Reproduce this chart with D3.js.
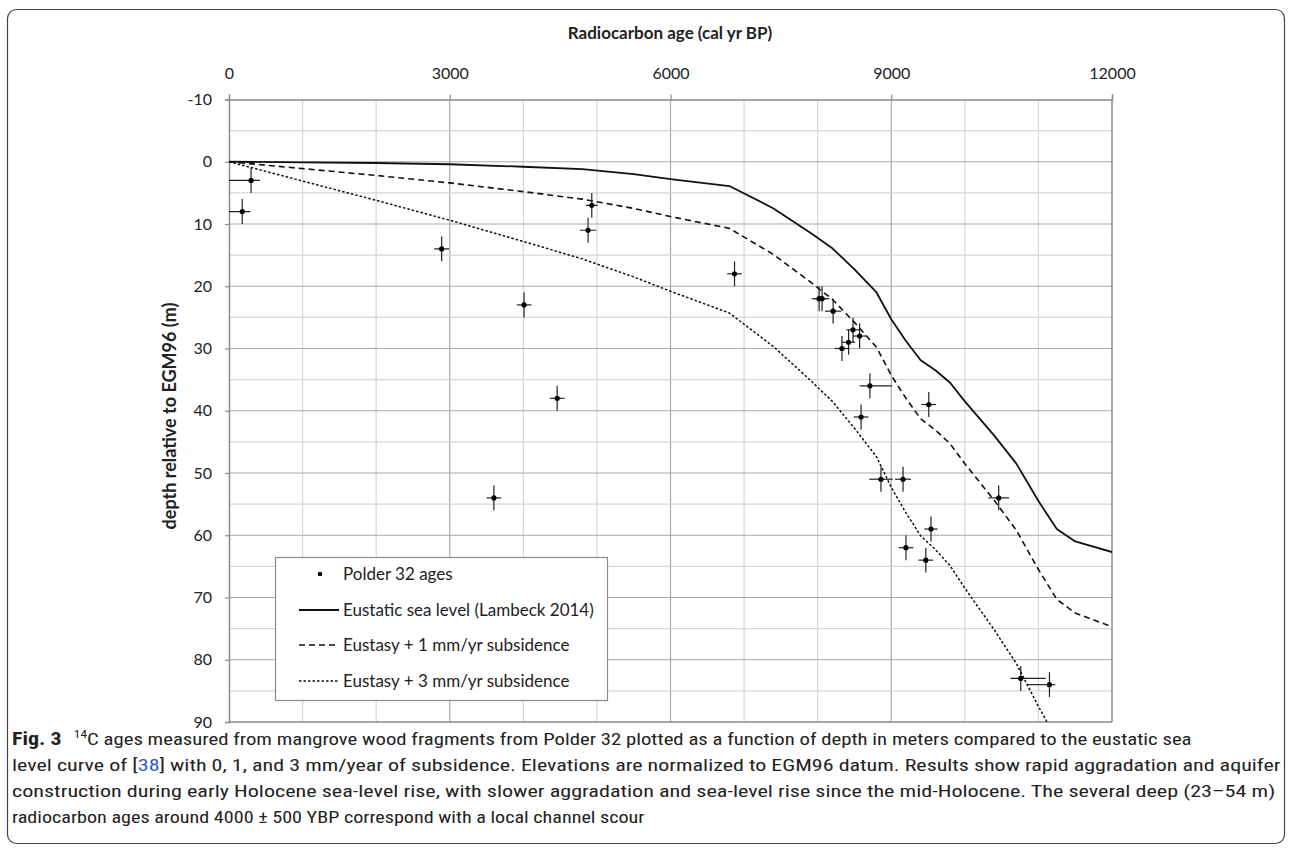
<!DOCTYPE html>
<html>
<head>
<meta charset="utf-8">
<script src="https://cdn.jsdelivr.net/npm/d3@7"></script>
<style>
  body { margin: 0; background: #fff; }
  svg { display: block; }
</style>
</head>
<body>
<div id="chart"></div>
<script>
// Polder 32 radiocarbon ages (cal yr BP) and depth (m)
const ages       = [180, 300, 2890, 4880, 4930, 4010, 4460, 3600, 6870, 8020, 8060, 8210, 8480, 8570, 8420, 8330, 8710, 8590, 9510, 8860, 9160, 10460, 9540, 9200, 9470, 10760, 11150];
const depths     = [8, 3, 14, 11, 7, 23, 38, 54, 18, 22, 22, 24, 27, 28, 29, 30, 36, 41, 39, 51, 51, 54, 59, 62, 64, 83, 84];
const ageErrLo   = [180, 300, 100, 110, 80, 100, 100, 100, 100, 100, 100, 110, 90, 90, 90, 100, 140, 100, 100, 160, 110, 140, 90, 100, 100, 140, 310];
const ageErrHi   = [110, 120, 100, 110, 80, 100, 100, 100, 100, 100, 100, 110, 90, 90, 90, 100, 300, 100, 100, 160, 110, 140, 90, 100, 100, 340, 80];
const depthErr   = [2, 2, 2, 2, 2, 2, 2, 2, 2, 2, 2, 2, 2, 2, 2, 2, 2, 2, 2, 2, 2, 2, 2, 2, 2, 2, 2];

// curve nodes (cal yr BP)
const curveAges  = [0, 1000, 2000, 3000, 4000, 4800, 5500, 6000, 6800, 7400, 7900, 8200, 8500, 8800, 9000, 9200, 9400, 9600, 9800, 10000, 10400, 10700, 11000, 11250, 11500, 12000];
const eustatic   = [0, 0.1, 0.2, 0.4, 0.8, 1.2, 2.0, 2.8, 3.9, 7.5, 11.4, 13.9, 17.3, 21.0, 25.3, 28.8, 31.9, 33.5, 35.5, 38.5, 44.0, 48.5, 54.5, 59.0, 61.0, 62.7];
const sub1mm     = [0, 1.1, 2.2, 3.4, 4.8, 6.0, 7.5, 8.8, 10.7, 14.9, 19.3, 22.1, 25.8, 29.8, 34.3, 38.0, 41.3, 43.1, 45.3, 48.5, 54.4, 59.2, 65.5, 70.3, 72.5, 74.7];
const sub3mm     = [0, 3.1, 6.2, 9.4, 12.8, 15.6, 18.5, 20.8, 24.3, 29.7, 35.1, 38.5, 42.8, 47.4, 52.3, 56.4, 60.1, 62.3, 64.9, 68.5, 75.2, 80.6, 87.5, 92.8, 96, 102];

const xTicks = [0, 3000, 6000, 9000, 12000];
const yTicks = [-10, 0, 10, 20, 30, 40, 50, 60, 70, 80, 90];

const legendLabels = ["Polder 32 ages", "Eustatic sea level (Lambeck 2014)", "Eustasy + 1 mm/yr subsidence", "Eustasy + 3 mm/yr subsidence"];

const captionLines = [
  "C ages measured from mangrove wood fragments from Polder 32 plotted as a function of depth in meters compared to the eustatic sea",
  " with 0, 1, and 3 mm/year of subsidence. Elevations are normalized to EGM96 datum. Results show rapid aggradation and aquifer",
  "construction during early Holocene sea-level rise, with slower aggradation and sea-level rise since the mid-Holocene. The several deep (23\u201354 m)",
  "radiocarbon ages around 4000 \u00b1 500 YBP correspond with a local channel scour"
];

var W = 1290, H = 850;
var font = "Lato, 'Open Sans', sans-serif";
var capFont = "'Liberation Sans Narrow', 'Roboto Condensed', Roboto, 'Noto Sans', sans-serif";

var svg = d3.select("#chart").append("svg")
  .attr("width", W)
  .attr("height", H);

// outer frame
svg.append("rect")
  .attr("x", 7.5).attr("y", 9.5)
  .attr("width", 1277).attr("height", 834)
  .attr("rx", 9)
  .attr("fill", "none")
  .attr("stroke", "#444")
  .attr("stroke-width", 1.2);

var x = d3.scaleLinear().domain([0, 12000]).range([229, 1112]);
var y = d3.scaleLinear().domain([-10, 90]).range([99.5, 722]);

// grid
var grid = svg.append("g");
grid.selectAll("line.v")
  .data(d3.range(1000, 12000, 1000))
  .join("line")
  .attr("x1", d => x(d)).attr("x2", d => x(d))
  .attr("y1", y(-10)).attr("y2", y(90))
  .attr("stroke", d => d % 3000 === 0 ? "#a8a8a8" : "#d6d6d6")
  .attr("stroke-width", 1.2);
grid.selectAll("line.h")
  .data(d3.range(-5, 90, 5))
  .join("line")
  .attr("x1", x(0)).attr("x2", x(12000))
  .attr("y1", d => y(d)).attr("y2", d => y(d))
  .attr("stroke", d => d % 10 === 0 ? "#a8a8a8" : "#d6d6d6")
  .attr("stroke-width", 1.2);

// axes
var xAxis = svg.append("g")
  .attr("transform", "translate(0," + y(-10) + ")")
  .call(d3.axisTop(x).tickValues(xTicks).tickFormat(d => String(d)).tickSize(5).tickPadding(16));
var yAxis = svg.append("g")
  .attr("transform", "translate(" + x(0) + ",0)")
  .call(d3.axisLeft(y).tickValues(yTicks).tickFormat(d => String(d)).tickSize(4).tickPadding(13));
[xAxis, yAxis].forEach(function (a) {
  a.select(".domain").attr("stroke", "#8a8a8a").attr("stroke-width", 1.5);
  a.selectAll(".tick line").attr("stroke", "#8a8a8a").attr("stroke-width", 1.2);
  a.selectAll(".tick text").attr("fill", "#222").style("font-family", font).style("font-size", "16px");
});

// right and bottom border
svg.append("line")
  .attr("x1", x(12000)).attr("x2", x(12000))
  .attr("y1", y(-10)).attr("y2", y(90))
  .attr("stroke", "#8a8a8a").attr("stroke-width", 1.5);
svg.append("line")
  .attr("x1", x(0)).attr("x2", x(12000))
  .attr("y1", y(90)).attr("y2", y(90))
  .attr("stroke", "#8a8a8a").attr("stroke-width", 1.5);

// axis titles
svg.append("text")
  .attr("x", 670).attr("y", 39)
  .attr("text-anchor", "middle")
  .style("font-family", font).style("font-size", "17px").style("font-weight", "bold")
  .attr("fill", "#222")
  .text("Radiocarbon age (cal yr BP)");
svg.append("text")
  .attr("transform", "translate(176,416) rotate(-90)")
  .attr("text-anchor", "middle")
  .style("font-family", font).style("font-size", "18px").style("font-weight", "bold")
  .attr("fill", "#222")
  .text("depth relative to EGM96 (m)");

// curves
svg.append("clipPath").attr("id", "clip")
  .append("rect")
  .attr("x", x(0)).attr("y", y(-10))
  .attr("width", x(12000) - x(0)).attr("height", y(90) - y(-10));

var line = d3.line()
  .x(d => x(d[0]))
  .y(d => y(d[1]));

var curves = [
  { vals: eustatic, dash: null, w: 1.8 },
  { vals: sub1mm, dash: "6,4", w: 1.6 },
  { vals: sub3mm, dash: "2.5,2", w: 1.5 }
];
var cg = svg.append("g").attr("clip-path", "url(#clip)");
curves.forEach(function (c) {
  cg.append("path")
    .datum(curveAges.map((a, i) => [a, c.vals[i]]))
    .attr("d", line)
    .attr("fill", "none")
    .attr("stroke", "#111")
    .attr("stroke-width", c.w)
    .attr("stroke-linejoin", "round")
    .attr("stroke-dasharray", c.dash);
});

// data points with error bars
var pts = ages.map((a, i) => ({ a: a, d: depths[i], lo: ageErrLo[i], hi: ageErrHi[i], e: depthErr[i] }));
var pg = svg.append("g").attr("clip-path", "url(#clip)");
pg.selectAll("line.xe")
  .data(pts).join("line")
  .attr("x1", d => x(d.a - d.lo)).attr("x2", d => x(d.a + d.hi))
  .attr("y1", d => y(d.d)).attr("y2", d => y(d.d))
  .attr("stroke", "#222").attr("stroke-width", 1.2);
pg.selectAll("line.ye")
  .data(pts).join("line")
  .attr("x1", d => x(d.a)).attr("x2", d => x(d.a))
  .attr("y1", d => y(d.d - d.e)).attr("y2", d => y(d.d + d.e))
  .attr("stroke", "#222").attr("stroke-width", 1.2);
pg.selectAll("circle")
  .data(pts).join("circle")
  .attr("cx", d => x(d.a)).attr("cy", d => y(d.d))
  .attr("r", 2.6)
  .attr("fill", "#000");

// legend
var lg = svg.append("g");
lg.append("rect")
  .attr("x", 275.5).attr("y", 557.5)
  .attr("width", 332).attr("height", 143)
  .attr("fill", "#fff")
  .attr("stroke", "#8a8a8a").attr("stroke-width", 1.2);
var legendY = [574, 610, 645, 681];
lg.append("circle").attr("cx", 320).attr("cy", legendY[0]).attr("r", 2.3).attr("fill", "#000");
var legendDash = [null, null, "6,4", "2.5,2"];
[1, 2, 3].forEach(function (i) {
  lg.append("line")
    .attr("x1", 299).attr("x2", 339)
    .attr("y1", legendY[i]).attr("y2", legendY[i])
    .attr("stroke", "#111").attr("stroke-width", curves[i - 1].w)
    .attr("stroke-dasharray", legendDash[i]);
});
lg.selectAll("text")
  .data(legendLabels).join("text")
  .attr("x", 343)
  .attr("y", (d, i) => legendY[i] + 6)
  .style("font-family", font).style("font-size", "17px")
  .attr("fill", "#222")
  .text(d => d);

// caption
var capY = [745, 771, 797, 823];
var capW = [1168, 1269, 1264, 633];
var t0 = svg.append("text").attr("x", 12).attr("y", capY[0])
  .style("font-family", capFont).style("font-size", "17px").attr("fill", "#222");
t0.append("tspan").style("font-weight", "bold").style("font-size", "18px").text("Fig. 3");
t0.append("tspan").attr("dx", 10).attr("dy", -7).style("font-size", "11px").text("14");
t0.append("tspan").attr("dy", 7).text(captionLines[0]);

var t1 = svg.append("text").attr("x", 12).attr("y", capY[1])
  .style("font-family", capFont).style("font-size", "17px").attr("fill", "#222");
t1.append("tspan").text("level curve of [");
t1.append("tspan").attr("fill", "#3355cc").text("38");
t1.append("tspan").text("]" + captionLines[1]);

[2, 3].forEach(function (i) {
  svg.append("text").attr("x", 12).attr("y", capY[i])
    .style("font-family", capFont).style("font-size", "17px").attr("fill", "#222")
    .text(captionLines[i]);
});

// squeeze / stretch caption lines to the widths in the figure
svg.selectAll("text").filter(function () { return +this.getAttribute("x") === 12; })
  .each(function (d, i) {
    var len = this.getComputedTextLength();
    var k = capW[i] / len;
    d3.select(this).attr("transform", "translate(12," + capY[i] + ") scale(" + k + ",1) translate(-12," + (-capY[i]) + ")");
  });
</script>
</body>
</html>
